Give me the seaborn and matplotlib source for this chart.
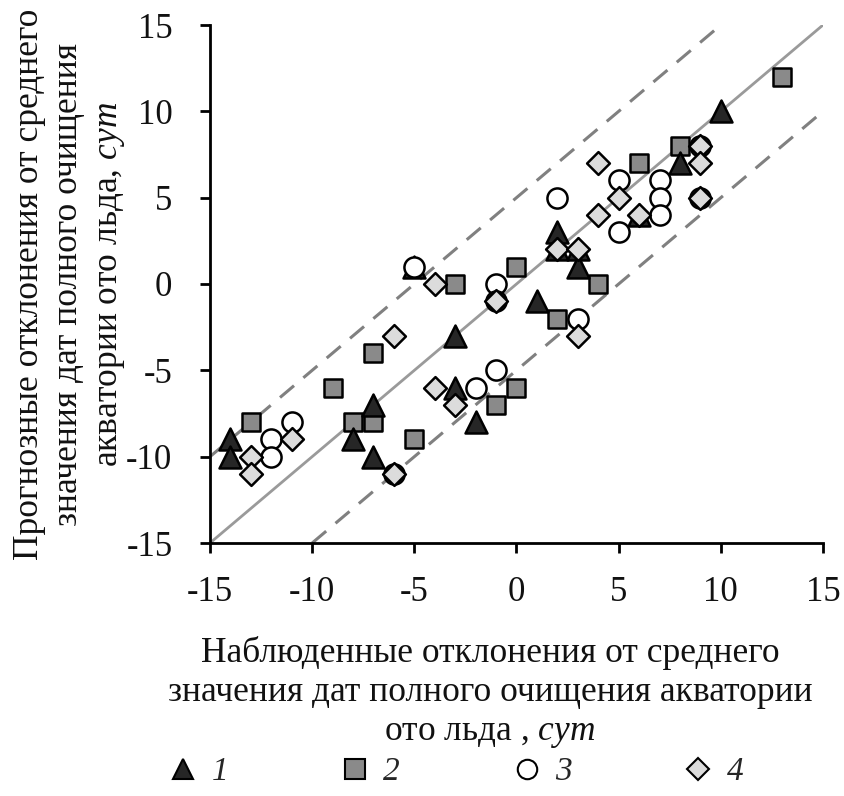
import matplotlib
matplotlib.use("Agg")
import matplotlib.pyplot as plt
import seaborn as sns
import pandas as pd
from matplotlib.lines import Line2D

# ---- data (observed, predicted) per series ----
s1_x = [-14, -14, -8, -7, -7, -5, -3, -3, -2, 1, 2, 2, 3, 3, 6, 8, 10]
s1_y = [-9, -10, -9, -7, -10, 1, -3, -6, -8, -1, 3, 2, 2, 1, 4, 7, 10]

s2_x = [-13, -9, -8, -7, -7, -5, -3, -1, 0, 0, 2, 4, 6, 8, 13]
s2_y = [-8, -6, -8, -4, -8, -9, 0, -7, 1, -6, -2, 0, 7, 8, 12]

s3_x = [-12, -12, -11, -6, -5, -2, -1, -1, -1, 2, 3, 5, 5, 7, 7, 7, 9, 9]
s3_y = [-9, -10, -8, -11, 1, -6, -5, 0, -1, 5, -2, 6, 3, 6, 5, 4, 8, 5]

s4_x = [-13, -13, -11, -6, -6, -4, -4, -3, -1, 2, 3, 3, 4, 4, 5, 6, 9, 9, 9]
s4_y = [-10, -11, -9, -3, -11, 0, -6, -7, -1, 2, 2, -3, 7, 4, 5, 4, 8, 7, 5]

series_labels = ["1", "2", "3", "4"]
ticks = [-15, -10, -5, 0, 5, 10, 15]
offsets = [0, 5, -5]

xlabel = "Наблюденные отклонения от среднего\nзначения дат полного очищения акватории\nото льда , $\\mathit{сут}$"
ylabel = "Прогнозные отклонения от среднего\nзначения дат полного очищения\nакватории ото льда, $\\mathit{сут}$"

sns.set_theme(style="white")
plt.rcParams["font.family"] = ["Liberation Serif", "DejaVu Serif"]
plt.rcParams["mathtext.fontset"] = "custom"
plt.rcParams["mathtext.it"] = "Liberation Serif:italic"
plt.rcParams["mathtext.rm"] = "Liberation Serif"
plt.rcParams["axes.unicode_minus"] = False

fig = plt.figure(figsize=(8.45, 7.96), dpi=100)
ax = fig.add_axes([210 / 845, 1 - 543 / 796, 613 / 845, 518 / 796])

# reference lines
for off in offsets:
    if off == 0:
        ax.axline((0, off), slope=1, color="#9a9a9a", lw=2.0, zorder=1)
    else:
        ax.axline((0, off), slope=1, color="#808080", lw=2.2, ls=(0, (6, 4)), zorder=1)

styles = {
    "1": dict(marker="^", color="#262626", s=250),
    "2": dict(marker="s", color="#8a8a8a", s=180),
    "3": dict(marker="o", color="white", s=210),
    "4": dict(marker="D", color="#dcdcdc", s=135),
}
data = {"1": (s1_x, s1_y), "2": (s2_x, s2_y), "3": (s3_x, s3_y), "4": (s4_x, s4_y)}

for i, key in enumerate(["2", "1", "3", "4"]):
    xs, ys = data[key]
    df = pd.DataFrame({"x": xs, "y": ys})
    st = styles[key]
    sns.scatterplot(data=df, x="x", y="y", ax=ax, marker=st["marker"], color=st["color"],
                    s=st["s"], edgecolor="black", linewidth=1.8, zorder=3 + i, legend=False)

ax.set_xlim(-15, 15)
ax.set_ylim(-15, 15)
ax.set_xticks(ticks)
ax.set_yticks(ticks)
ax.set_xticklabels([str(t) for t in ticks])
ax.set_yticklabels([str(t) for t in ticks])
ax.set_xlabel("")
ax.set_ylabel("")
for side in ["top", "right"]:
    ax.spines[side].set_visible(False)
for side in ["left", "bottom"]:
    ax.spines[side].set_color("black")
    ax.spines[side].set_linewidth(2.0)
ax.tick_params(axis="both", which="major", direction="out", length=7, width=2.0,
               color="black", labelsize=25, labelcolor="#111111")
ax.tick_params(axis="x", pad=17, bottom=True)
ax.tick_params(axis="y", pad=20, left=True)

fig.text(490 / 845, 1 - 693 / 796, xlabel, ha="center", va="center", fontsize=25.5,
         linespacing=1.25, multialignment="center", color="#111111")
fig.text(70 / 845, 1 - 284 / 796, ylabel, ha="center", va="center", rotation=90,
         fontsize=25.5, linespacing=1.25, multialignment="center", color="#111111")

handles = []
for key in series_labels:
    st = styles[key]
    handles.append(Line2D([], [], ls="none", marker=st["marker"], markerfacecolor=st["color"],
                          markeredgecolor="black", markeredgewidth=1.5,
                          markersize=14 if key != "4" else 11))
leg = fig.legend(handles, series_labels, loc="center", bbox_to_anchor=(455 / 845, 1 - 772 / 796),
                 ncol=4, frameon=False, handlelength=1.0, handletextpad=0.35,
                 columnspacing=3.3, prop={"style": "italic", "size": 24})

fig.savefig("out.png", dpi=100)
